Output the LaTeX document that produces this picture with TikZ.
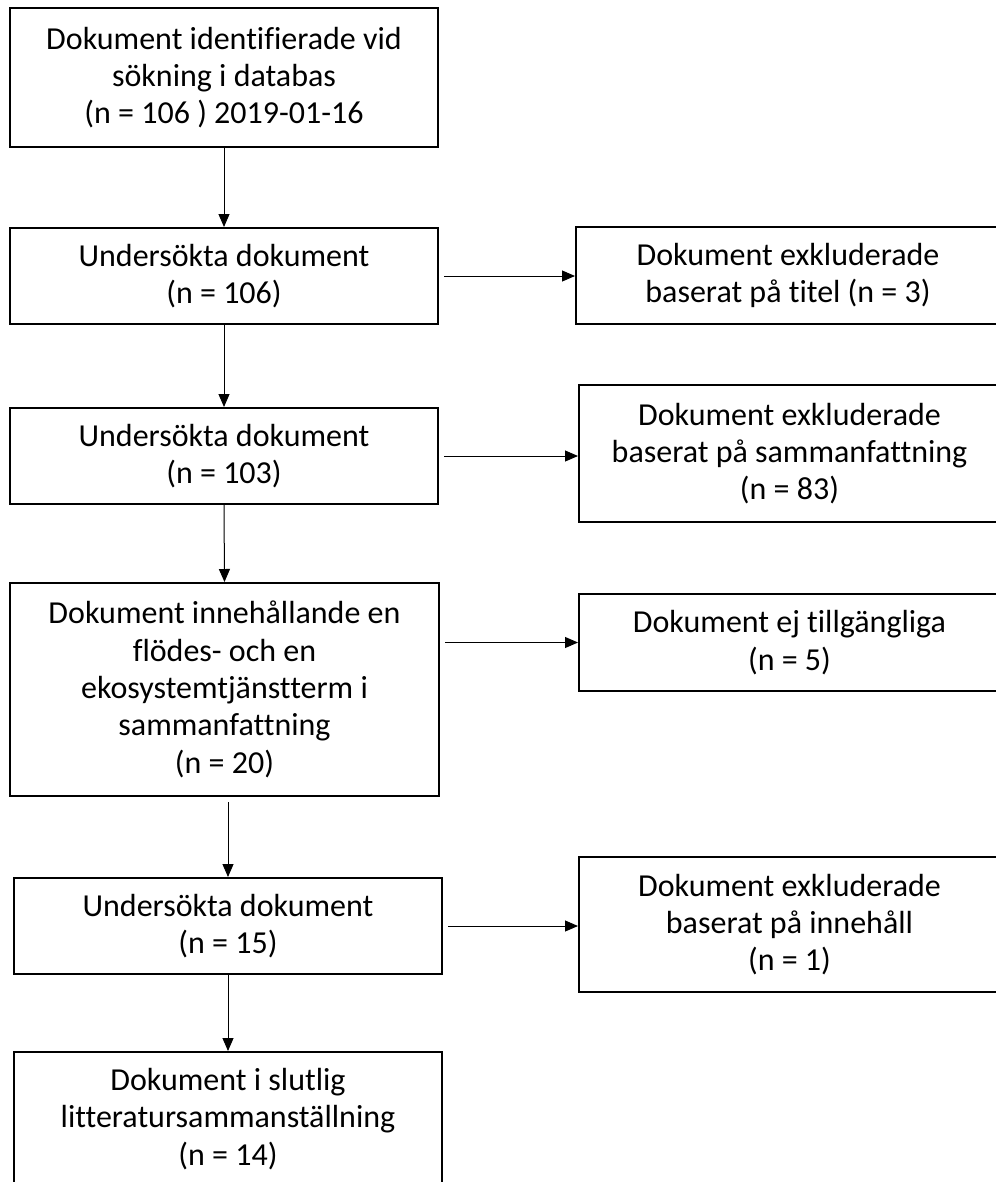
\documentclass[tikz,border=0pt]{standalone}
\usepackage{fontspec}
\setmainfont{Carlito}[Ligatures=NoCommon]
\usetikzlibrary{arrows.meta,calc}
\begin{document}
\begin{tikzpicture}[x=0.75pt,y=-0.75pt,
  box/.style={draw=black,line width=1.5pt,rectangle,inner sep=0pt,align=center,
    font=\fontsize{24}{28}\selectfont},
  arr/.style={line width=0.75pt,-{Triangle[length=9.75pt,width=8.25pt]}}]
\clip (0,0) rectangle (996,1182);
\fill[white] (0,0) rectangle (996,1182);
% left column
\node[box,minimum width=321pt,minimum height=104.25pt] (b1) at (224,77.5)
  {Dokument identifierade vid\\ sökning i databas\\ (n = 106 ) 2019-01-16};
\node[box,minimum width=321pt,minimum height=72pt] (b2) at (224,276)
  {Undersökta dokument\\ (n = 106)};
\node[box,minimum width=321pt,minimum height=72pt] (b3) at (224,456)
  {Undersökta dokument\\ (n = 103)};
\node[box,minimum width=321.75pt,minimum height=159.75pt] (b4) at (224.5,689.5)
  {Dokument innehållande en\\ flödes- och en\\ ekosystemtjänstterm i\\ sammanfattning\\ (n = 20)};
\node[box,minimum width=321pt,minimum height=72pt] (b5) at (228,926)
  {Undersökta dokument\\ (n = 15)};
\node[box,minimum width=321pt,minimum height=100.5pt] (b6) at (228,1119)
  {Dokument i slutlig\\ litteratursammanställning\\ (n = 14)};
% right column
\node[box,minimum width=318pt,minimum height=72.75pt] (r1) at (788,275.5)
  {Dokument exkluderade\\ baserat på titel (n = 3)};
\node[box,minimum width=315.75pt,minimum height=102.75pt] (r2) at (789.5,453.5)
  {Dokument exkluderade\\ baserat på sammanfattning\\ (n = 83)};
\node[box,minimum width=315.75pt,minimum height=72.75pt] (r3) at (789.5,642.5)
  {Dokument ej tillgängliga\\ (n = 5)};
\node[box,minimum width=315.75pt,minimum height=101.25pt] (r4) at (789.5,924.5)
  {Dokument exkluderade\\ baserat på innehåll\\ (n = 1)};
% vertical arrows
\draw[arr] (b1.south) -- (b2.north);
\draw[arr] (b2.south) -- (b3.north);
\draw[arr] (b3.south) -- (b4.north);
\draw[arr] ($(b4.south -| b5.north)+(0,-4pt)$) -- (b5.north);
\draw[arr] (b5.south) -- (b6.north);
% horizontal arrows
\draw[arr] ($(b2.east)+(4pt,0)$) -- (b2.east -| r1.west);
\draw[arr] ($(b3.east)+(4pt,0)$) -- (b3.east -| r2.west);
\draw[arr] ($(b4.east |- r3.west)+(4pt,0)$) -- (r3.west);
\draw[arr] ($(b5.east)+(4pt,0)$) -- (b5.east -| r4.west);
\end{tikzpicture}
\end{document}
